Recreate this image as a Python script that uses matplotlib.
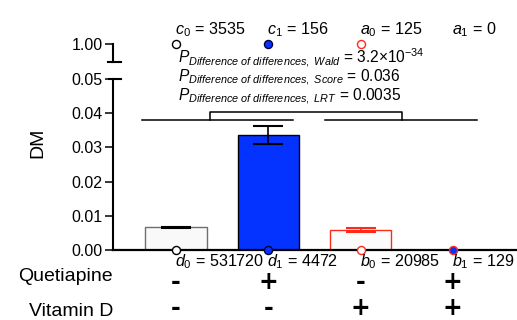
import matplotlib
matplotlib.use("Agg")
import matplotlib.pyplot as plt
from matplotlib.transforms import blended_transform_factory
from matplotlib.lines import Line2D

plt.rcParams['font.family'] = ['Liberation Sans', 'DejaVu Sans']
plt.rcParams['mathtext.fontset'] = 'custom'
plt.rcParams['mathtext.rm'] = 'Liberation Sans'
plt.rcParams['mathtext.it'] = 'Liberation Sans:italic'
plt.rcParams['mathtext.bf'] = 'Liberation Sans:bold'

# ---- data ----
groups = ["Q-/D-", "Q+/D-", "Q-/D+", "Q+/D+"]
dm = [0.0066, 0.0337, 0.0059, 0.0]
dm_se = [0.00011, 0.0026, 0.00053, 0.0]
event_names = [r"$c_0$", r"$c_1$", r"$a_0$", r"$a_1$"]
event_counts = [3535, 156, 125, 0]
nonevent_names = [r"$d_0$", r"$d_1$", r"$b_0$", r"$b_1$"]
nonevent_counts = [531720, 4472, 20985, 129]
quetiapine = ["-", "+", "-", "+"]
vitamin_d = ["-", "-", "+", "+"]
p_tests = ["Wald", "Score", "LRT"]
p_values = ["3.2×10$^{-34}$", "0.036", "0.0035"]
y_ticks = [0.00, 0.01, 0.02, 0.03, 0.04, 0.05]

# ---- styles ----
BLUE = "#0433FF"
RED = "#FF2A1A"
face = ["#f9f9f9", BLUE, "#fbfbfb", BLUE]
edge = ["#6e6e6e", "#000000", RED, RED]
err_col = ["#000000", "#000000", RED, RED]
marker_face = ["white", BLUE, "white", BLUE]
marker_edge = ["#000000", "#000033", RED, RED]

W, H = 517, 320
fig = plt.figure(figsize=(W / 100, H / 100), dpi=100)

def fx(px):
    return px / W

def fy(py):
    return (H - py) / H

ax_left, ax_right = 113, 517
y0_px, y5_px = 250, 79
top_hi, top_lo = 44, 61.7

ax = fig.add_axes([fx(ax_left), fy(y0_px), fx(ax_right - ax_left), (y0_px - y5_px) / H])
ax_top = fig.add_axes([fx(ax_left), fy(top_lo), fx(ax_right - ax_left), (top_lo - top_hi) / H],
                      sharex=ax)

xs = list(range(len(groups)))
ax.set_xlim(-0.683, 3.695)
ax.set_ylim(0, 0.05)
ax_top.set_ylim(0.9948, 1.0)

# bars with error bars
ax.bar(xs, dm, width=0.667, color=face, edgecolor=edge, linewidth=1.0, zorder=2)
for i in xs:
    if dm_se[i] > 0:
        ax.errorbar(i, dm[i], yerr=dm_se[i], color=err_col[i], capsize=11,
                    elinewidth=1.2, capthick=1.5, zorder=3)

# points for event / non-event counts
for i in xs:
    if nonevent_counts[i] > 0:
        ax.plot(i, 0, "o", ms=5.8, mfc=marker_face[i], mec=marker_edge[i], mew=1.0,
                clip_on=False, zorder=6)
    if event_counts[i] > 0:
        ax_top.plot(i, 1.0, "o", ms=5.8, mfc=marker_face[i], mec=marker_edge[i], mew=1.0,
                    clip_on=False, zorder=6)

# count labels
for i in xs:
    ax_top.annotate(f"{event_names[i]} = {event_counts[i]}", xy=(i, 1.0), xytext=(-1, 10),
                    textcoords="offset pixels", ha="left", va="baseline", fontsize=11.6,
                    annotation_clip=False)
    ax.annotate(f"{nonevent_names[i]} = {nonevent_counts[i]}", xy=(i, 0), xytext=(-1, -16),
                textcoords="offset pixels", ha="left", va="baseline", fontsize=11.6,
                annotation_clip=False, zorder=7)

# difference-of-differences bracket
br_lo, br_hi = 0.038, 0.0404
bk = dict(color="black", lw=1.1, clip_on=False, zorder=4)
ax.plot([-0.37, 1.27], [br_lo, br_lo], **bk)
ax.plot([1.61, 3.26], [br_lo, br_lo], **bk)
ax.plot([0.37, 0.37, 2.45, 2.45], [br_lo, br_hi, br_hi, br_lo], **bk)

# p-value lines
for k, (t, v) in enumerate(zip(p_tests, p_values)):
    fig.text(fx(178), fy(63 + 19 * k),
             r"$\mathit{P}_{\mathit{Difference\ of\ differences,\ " + t + r"}}$ = " + v,
             fontsize=11.2, ha="left", va="baseline")

# axes styling
for a in (ax, ax_top):
    for s in ("top", "right"):
        a.spines[s].set_visible(False)
    a.spines["left"].set_linewidth(1.5)
    a.tick_params(axis="y", length=5.8, width=1.1, labelsize=11.5, pad=1.5)
ax.spines["bottom"].set_linewidth(1.6)
ax.spines["bottom"].set_zorder(5)
ax.set_xticks([])
ax.set_yticks(y_ticks)
ax.set_yticklabels([f"{t:.2f}" for t in y_ticks])
ax_top.spines["bottom"].set_visible(False)
ax_top.set_yticks([1.0])
ax_top.set_yticklabels(["1.00"])
ax_top.tick_params(axis="x", bottom=False, labelbottom=False)
ax_top.patch.set_visible(False)

# axis break caps
aw = ax_right - ax_left
for a, yy, l0 in ((ax, 1.0, 109), (ax_top, 0.0, 108)):
    a.add_line(Line2D([(l0 - ax_left) / aw, (121 - ax_left) / aw], [yy, yy],
                      transform=a.transAxes, color="black", lw=1.5, clip_on=False))

fig.text(fx(38), fy(143), "DM", rotation=90, ha="center", va="center", fontsize=14)

# treatment rows
tr = blended_transform_factory(ax.transData, fig.transFigure)
fig.text(fx(113), fy(281), "Quetiapine", ha="right", va="baseline", fontsize=14)
fig.text(fx(113), fy(316), "Vitamin D", ha="right", va="baseline", fontsize=14)

for row, ypx in ((quetiapine, 282), (vitamin_d, 308)):
    for i in xs:
        ax.text(i, fy(ypx), row[i], transform=tr, ha="center", va="center",
                fontsize=17, fontweight="bold", family="DejaVu Sans")

fig.savefig("out.png", dpi=100)
